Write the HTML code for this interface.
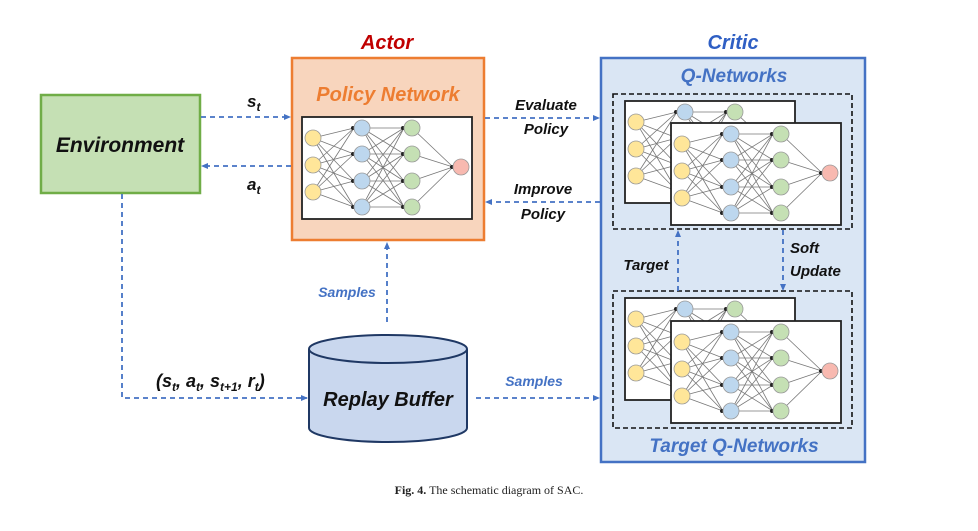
<!DOCTYPE html>
<html><head><meta charset="utf-8"><style>
body{margin:0;background:#fff;}
text{font-family:"Liberation Sans",Arial,sans-serif;font-weight:bold;font-style:italic;}
</style></head><body>
<svg width="978" height="526" viewBox="0 0 978 526" xmlns="http://www.w3.org/2000/svg">
<defs>
<marker id="ah" markerWidth="8" markerHeight="8" refX="6" refY="4" orient="auto" markerUnits="userSpaceOnUse"><path d="M0,1 L7,4 L0,7 z" fill="#4472c4"/></marker>
<g id="net">
<rect x="0" y="0" width="170" height="102" fill="#fff" stroke="#222" stroke-width="1.8"/>
<g stroke="#777" stroke-width="0.8">
<line x1="11" y1="21" x2="52" y2="11"/><line x1="11" y1="21" x2="52" y2="37"/><line x1="11" y1="21" x2="52" y2="64"/><line x1="11" y1="21" x2="52" y2="90"/>
<line x1="11" y1="48" x2="52" y2="11"/><line x1="11" y1="48" x2="52" y2="37"/><line x1="11" y1="48" x2="52" y2="64"/><line x1="11" y1="48" x2="52" y2="90"/>
<line x1="11" y1="75" x2="52" y2="11"/><line x1="11" y1="75" x2="52" y2="37"/><line x1="11" y1="75" x2="52" y2="64"/><line x1="11" y1="75" x2="52" y2="90"/>
<line x1="60" y1="11" x2="102" y2="11"/><line x1="60" y1="11" x2="102" y2="37"/><line x1="60" y1="11" x2="102" y2="64"/><line x1="60" y1="11" x2="102" y2="90"/>
<line x1="60" y1="37" x2="102" y2="11"/><line x1="60" y1="37" x2="102" y2="37"/><line x1="60" y1="37" x2="102" y2="64"/><line x1="60" y1="37" x2="102" y2="90"/>
<line x1="60" y1="64" x2="102" y2="11"/><line x1="60" y1="64" x2="102" y2="37"/><line x1="60" y1="64" x2="102" y2="64"/><line x1="60" y1="64" x2="102" y2="90"/>
<line x1="60" y1="90" x2="102" y2="11"/><line x1="60" y1="90" x2="102" y2="37"/><line x1="60" y1="90" x2="102" y2="64"/><line x1="60" y1="90" x2="102" y2="90"/>
<line x1="110" y1="11" x2="151" y2="50"/><line x1="110" y1="37" x2="151" y2="50"/><line x1="110" y1="64" x2="151" y2="50"/><line x1="110" y1="90" x2="151" y2="50"/>
</g>
<g fill="#222"><circle cx="51" cy="11" r="2"/><circle cx="51" cy="37" r="2"/><circle cx="51" cy="64" r="2"/><circle cx="51" cy="90" r="2"/>
<circle cx="101" cy="11" r="2"/><circle cx="101" cy="37" r="2"/><circle cx="101" cy="64" r="2"/><circle cx="101" cy="90" r="2"/><circle cx="150" cy="50" r="2"/></g>
<g stroke="#999" stroke-width="0.8">
<circle cx="11" cy="21" r="8" fill="#ffe699"/><circle cx="11" cy="48" r="8" fill="#ffe699"/><circle cx="11" cy="75" r="8" fill="#ffe699"/>
<circle cx="60" cy="11" r="8" fill="#bdd7ee"/><circle cx="60" cy="37" r="8" fill="#bdd7ee"/><circle cx="60" cy="64" r="8" fill="#bdd7ee"/><circle cx="60" cy="90" r="8" fill="#bdd7ee"/>
<circle cx="110" cy="11" r="8" fill="#c5e0b4"/><circle cx="110" cy="37" r="8" fill="#c5e0b4"/><circle cx="110" cy="64" r="8" fill="#c5e0b4"/><circle cx="110" cy="90" r="8" fill="#c5e0b4"/>
<circle cx="159" cy="50" r="8" fill="#f8b9b0"/>
</g>
</g>
</defs>

<!-- Environment -->
<rect x="41" y="95" width="159" height="98" fill="#c5e0b4" stroke="#70ad47" stroke-width="2.5"/>
<text x="120" y="152" font-size="21" text-anchor="middle" fill="#111">Environment</text>

<!-- Actor -->
<text x="387" y="49" font-size="20" text-anchor="middle" fill="#c00000">Actor</text>
<rect x="292" y="58" width="192" height="182" fill="#f8d5bd" stroke="#ed7d31" stroke-width="2.5"/>
<text x="388" y="101" font-size="20" text-anchor="middle" fill="#ed7d31">Policy Network</text>
<use href="#net" x="302" y="117"/>

<!-- Critic -->
<text x="733" y="49" font-size="20" text-anchor="middle" fill="#2f5fc4">Critic</text>
<rect x="601" y="58" width="264" height="404" fill="#dae6f4" stroke="#4472c4" stroke-width="2.5"/>
<text x="734" y="82" font-size="19" text-anchor="middle" fill="#4472c4">Q-Networks</text>
<rect x="613" y="94" width="239" height="135" fill="none" stroke="#111" stroke-width="1.6" stroke-dasharray="5,3"/>
<use href="#net" x="625" y="101"/>
<use href="#net" x="671" y="123"/>
<rect x="613" y="291" width="239" height="137" fill="none" stroke="#111" stroke-width="1.6" stroke-dasharray="5,3"/>
<use href="#net" x="625" y="298"/>
<use href="#net" x="671" y="321"/>
<text x="734" y="452" font-size="19" text-anchor="middle" fill="#4472c4">Target Q-Networks</text>
<text x="646" y="270" font-size="15" text-anchor="middle" fill="#111">Target</text>
<text x="790" y="253" font-size="15" fill="#111">Soft</text>
<text x="790" y="276" font-size="15" fill="#111">Update</text>

<!-- Replay buffer -->
<path d="M309,349 L309,428 A79,14 0 0 0 467,428 L467,349" fill="#c9d7ee" stroke="#1f3864" stroke-width="2"/>
<ellipse cx="388" cy="349" rx="79" ry="14" fill="#c9d7ee" stroke="#1f3864" stroke-width="2"/>
<text x="388" y="406" font-size="20" text-anchor="middle" fill="#111">Replay Buffer</text>

<!-- Arrows -->
<g stroke="#4472c4" stroke-width="1.8" stroke-dasharray="5,4" fill="none">
<line x1="201" y1="117" x2="290" y2="117" marker-end="url(#ah)"/>
<line x1="291" y1="166" x2="202" y2="166" marker-end="url(#ah)"/>
<line x1="485" y1="118" x2="599" y2="118" marker-end="url(#ah)"/>
<line x1="600" y1="202" x2="486" y2="202" marker-end="url(#ah)"/>
<line x1="387" y1="322" x2="387" y2="243" marker-end="url(#ah)"/>
<polyline points="122,194 122,398 307,398" marker-end="url(#ah)"/>
<line x1="476" y1="398" x2="599" y2="398" marker-end="url(#ah)"/>
<line x1="678" y1="291" x2="678" y2="231" marker-end="url(#ah)"/>
<line x1="783" y1="230" x2="783" y2="290" marker-end="url(#ah)"/>
</g>

<text x="247" y="107" font-size="17" fill="#111">s<tspan font-size="12" dy="4">t</tspan></text>
<text x="247" y="190" font-size="17" fill="#111">a<tspan font-size="12" dy="4">t</tspan></text>
<text x="546" y="110" font-size="15" text-anchor="middle" fill="#111">Evaluate</text>
<text x="546" y="134" font-size="15" text-anchor="middle" fill="#111">Policy</text>
<text x="543" y="194" font-size="15" text-anchor="middle" fill="#111">Improve</text>
<text x="543" y="219" font-size="15" text-anchor="middle" fill="#111">Policy</text>
<text x="347" y="297" font-size="14" text-anchor="middle" fill="#4472c4">Samples</text>
<text x="534" y="386" font-size="14" text-anchor="middle" fill="#4472c4">Samples</text>
<text x="156" y="387" font-size="18" fill="#111">(s<tspan font-size="12" dy="4">t</tspan><tspan dy="-4">, a</tspan><tspan font-size="12" dy="4">t</tspan><tspan dy="-4">, s</tspan><tspan font-size="12" dy="4">t+1</tspan><tspan dy="-4">, r</tspan><tspan font-size="12" dy="4">t</tspan><tspan dy="-4">)</tspan></text>

<text x="489" y="494" font-size="12" text-anchor="middle" fill="#222" style="font-family:'Liberation Serif',serif;font-style:normal;font-weight:normal"><tspan font-weight="bold">Fig. 4.</tspan>  The schematic diagram of SAC.</text>
</svg>
</body></html>
